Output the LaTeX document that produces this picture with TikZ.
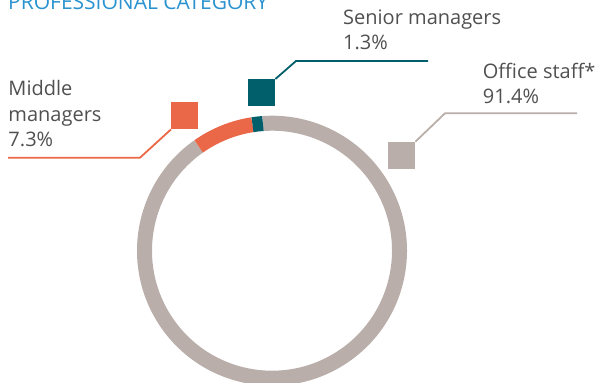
\documentclass[tikz,border=0pt]{standalone}
\usepackage{fontspec}
\setmainfont{Open Sans}
\definecolor{ringgray}{HTML}{B9AEAA}
\definecolor{mmorange}{HTML}{EA6747}
\definecolor{smteal}{HTML}{005F6B}
\definecolor{titleblue}{HTML}{2A93CF}
\definecolor{labelgray}{HTML}{505050}
\begin{document}
\begin{tikzpicture}[x=1pt,y=1pt,
  lbl/.style={anchor=base west,inner sep=0pt,align=left,text=labelgray,
    font=\fontsize{20}{25.5}\selectfont},
  keybox/.style={minimum size=27pt,inner sep=0pt,anchor=north west},
  leader/.style={line width=1.8pt,line join=miter}]
 \useasboundingbox (0,0) rectangle (600,383);
 \clip (0,0) rectangle (600,383);
 % title
 \node[anchor=base west,inner sep=0pt,text=titleblue,
   font=\fontsize{21}{24}\selectfont] (title) at (8,373) {PROFESSIONAL CATEGORY};
 % ring
 \coordinate (c) at (272,132.3);
 \draw[ringgray,line width=15pt] ([shift={(125.1:127.5)}]c) arc (125.1:454.1:127.5);
 \draw[mmorange,line width=15pt] ([shift={(98.8:127.5)}]c) arc (98.8:125.1:127.5);
 \draw[smteal,line width=15pt] ([shift={(94.1:127.5)}]c) arc (94.1:98.8:127.5);
 % keys
 \node[keybox,fill=mmorange] (mmbox) at (171,281) {};
 \node[keybox,fill=smteal] (smbox) at (248,304) {};
 \node[keybox,fill=ringgray] (osbox) at (388,241.3) {};
 % labels (anchored at the last line)
 \node[lbl] (mmlbl) at (8.3,236) {Middle\\managers\\7.3\%};
 \node[lbl] (smlbl) at (343,333) {Senior managers\\1.3\%};
 \node[lbl] (oslbl) at (482.7,279) {Office staff*\\91.4\%};
 % leaders
 \coordinate (mmend) at (8,225.3);
 \coordinate (smend) at (428,322);
 \coordinate (osend) at (577,269.7);
 \draw[leader,mmorange] (mmbox.south west) -- (140,225.3) -- (mmend);
 \draw[leader,smteal] (smbox.north east) -- (296,322) -- (smend);
 \draw[leader,ringgray] (osbox.north east) -- (445,269.7) -- (osend);
\end{tikzpicture}
\end{document}
